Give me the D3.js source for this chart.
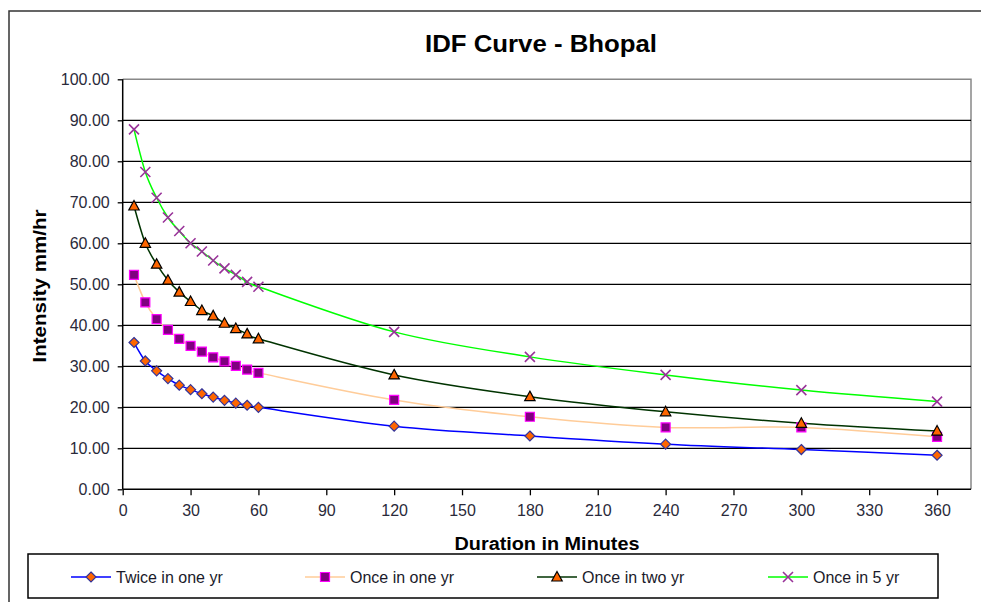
<!DOCTYPE html>
<html>
<head>
<meta charset="utf-8">
<script src="https://cdn.jsdelivr.net/npm/d3@7"></script>
<style>
  html, body { margin: 0; padding: 0; background: #fff; }
  svg { display: block; font-family: "Liberation Sans", Arial, sans-serif; }
</style>
</head>
<body>
<svg id="chart" width="981" height="602"></svg>
<script>
const durations   = [5, 10, 15, 20, 25, 30, 35, 40, 45, 50, 55, 60, 120, 180, 240, 300, 360];
const twiceOneYr  = [35.8, 31.3, 28.9, 27.0, 25.4, 24.3, 23.3, 22.5, 21.7, 21.0, 20.5, 20.0, 15.4, 13.0, 11.0, 9.7, 8.3];
const onceOneYr   = [52.3, 45.6, 41.5, 38.9, 36.7, 35.0, 33.6, 32.2, 31.2, 30.1, 29.2, 28.4, 21.8, 17.7, 15.1, 15.1, 12.8];
const onceTwoYr   = [69.1, 60.0, 54.9, 51.0, 48.1, 45.8, 43.6, 42.3, 40.5, 39.2, 37.9, 36.7, 27.9, 22.6, 18.9, 16.1, 14.2];
const onceFiveYr  = [87.8, 77.4, 71.1, 66.3, 63.0, 60.0, 58.0, 55.8, 53.9, 52.3, 50.6, 49.4, 38.4, 32.3, 27.9, 24.2, 21.4];
const seriesNames = ["Twice in one yr", "Once in one yr", "Once in two yr", "Once in 5 yr"];
const xTicks = [0, 30, 60, 90, 120, 150, 180, 210, 240, 270, 300, 330, 360];
const yTicks = [0, 10, 20, 30, 40, 50, 60, 70, 80, 90, 100];
const titleText = "IDF Curve - Bhopal";
const xTitle = "Duration in Minutes";
const yTitle = "Intensity mm/hr";

const seriesValues = [twiceOneYr, onceOneYr, onceTwoYr, onceFiveYr];
const styles = [
  { line: "#0000FF", marker: "diamond",  fill: "#FF6600", stroke: "#333399" },
  { line: "#FFCC99", marker: "square",   fill: "#800080", stroke: "#FF00FF" },
  { line: "#003300", marker: "triangle", fill: "#FF6600", stroke: "#000000" },
  { line: "#00FF00", marker: "x",        fill: "none",    stroke: "#993399" }
];

const svg = d3.select("#chart");
const L = 122.7, R = 971, T = 79.3, B = 489.3;
const x = d3.scaleLinear().domain([0, 375]).range([L, R]);
const y = d3.scaleLinear().domain([0, 100]).range([B, T]);

// outer chart border
svg.append("rect").attr("x", 9).attr("y", 11).attr("width", 1100).attr("height", 700)
  .attr("fill", "none").attr("stroke", "#333").attr("stroke-width", 1.5);

// title
svg.append("text").attr("x", 541).attr("y", 52).attr("text-anchor", "middle")
  .attr("font-size", 23).attr("font-weight", "bold").attr("fill", "#000")
  .attr("textLength", 232).attr("lengthAdjust", "spacingAndGlyphs")
  .text(titleText);

// plot area border (top + right gray)
svg.append("path").attr("d", `M${L},${T}H${R}V${B}`)
  .attr("fill", "none").attr("stroke", "#888").attr("stroke-width", 1.5);

// gridlines
svg.append("g").selectAll("line").data(yTicks.filter(v => v > 0 && v < 100)).join("line")
  .attr("x1", L).attr("x2", R).attr("y1", d => y(d)).attr("y2", d => y(d))
  .attr("stroke", "#000").attr("stroke-width", 1.3);

// y axis
const yAxis = d3.axisLeft(y).tickValues(yTicks).tickSize(5).tickPadding(8)
  .tickFormat(d3.format(".2f"));
const gy = svg.append("g").attr("transform", `translate(${L},0)`).call(yAxis);
gy.select(".domain").attr("stroke", "#000").attr("stroke-width", 1.5).attr("d", `M-0,${T}V${B}`);
gy.selectAll(".tick line").attr("stroke", "#000").attr("stroke-width", 1.3);
gy.selectAll(".tick text").attr("font-size", 16).attr("fill", "#2a2a3a")
  .attr("font-family", "Liberation Sans, Arial, sans-serif");

// x axis
const xAxis = d3.axisBottom(x).tickValues(xTicks).tickSize(6).tickPadding(9).tickFormat(d3.format("d"));
const gx = svg.append("g").attr("transform", `translate(0,${B})`).call(xAxis);
gx.select(".domain").attr("stroke", "#000").attr("stroke-width", 1.5).attr("d", `M${L},0H${R}`);
gx.selectAll(".tick line").attr("stroke", "#000").attr("stroke-width", 1.3);
gx.selectAll(".tick text").attr("font-size", 16).attr("fill", "#2a2a3a")
  .attr("font-family", "Liberation Sans, Arial, sans-serif");

// axis titles
svg.append("text").attr("x", 547).attr("y", 550).attr("text-anchor", "middle")
  .attr("font-size", 18).attr("font-weight", "bold").attr("fill", "#000")
  .attr("textLength", 185).attr("lengthAdjust", "spacingAndGlyphs")
  .text(xTitle);
svg.append("text").attr("transform", "translate(46,286) rotate(-90)").attr("text-anchor", "middle")
  .attr("font-size", 18).attr("font-weight", "bold").attr("fill", "#000")
  .attr("textLength", 153).attr("lengthAdjust", "spacingAndGlyphs")
  .text(yTitle);

// marker path builder
function markerPath(type) {
  switch (type) {
    case "diamond": return "M0,-5L5,0L0,5L-5,0Z";
    case "square": return "M-4.5,-4.5H4.5V4.5H-4.5Z";
    case "triangle": return "M0,-5.5L5.2,4L-5.2,4Z";
    case "x": return "M-5,-5L5,5M-5,5L5,-5";
  }
}

const line = d3.line().x(d => x(d[0])).y(d => y(d[1])).curve(d3.curveCardinal.tension(0));

seriesValues.forEach((vals, i) => {
  const pts = durations.map((t, k) => [t, vals[k]]);
  svg.append("path").datum(pts).attr("d", line)
    .attr("fill", "none").attr("stroke", styles[i].line).attr("stroke-width", 1.5);
});
seriesValues.forEach((vals, i) => {
  const st = styles[i];
  const pts = durations.map((t, k) => [t, vals[k]]);
  svg.append("g").selectAll("path").data(pts).join("path")
    .attr("transform", d => `translate(${x(d[0])},${y(d[1])})`)
    .attr("d", markerPath(st.marker))
    .attr("fill", st.fill).attr("stroke", st.stroke)
    .attr("stroke-width", st.marker === "x" ? 1.6 : 1.2);
});

// legend
svg.append("rect").attr("x", 28).attr("y", 554).attr("width", 910).attr("height", 44)
  .attr("fill", "#fff").attr("stroke", "#000").attr("stroke-width", 1.5);
const legendX = [71, 305, 537, 768];
const ly = 577;
seriesNames.forEach((name, i) => {
  const st = styles[i];
  const g = svg.append("g").attr("transform", `translate(${legendX[i]},${ly})`);
  g.append("line").attr("x1", 0).attr("x2", 40).attr("y1", 0).attr("y2", 0)
    .attr("stroke", st.line).attr("stroke-width", 1.5);
  g.append("path").attr("transform", "translate(20,0)").attr("d", markerPath(st.marker))
    .attr("fill", st.fill).attr("stroke", st.stroke).attr("stroke-width", st.marker === "x" ? 1.6 : 1.2);
  g.append("text").attr("x", 45).attr("y", 5.5).attr("font-size", 16).attr("fill", "#1a1a2a")
    .text(name);
});
</script>
</body>
</html>
